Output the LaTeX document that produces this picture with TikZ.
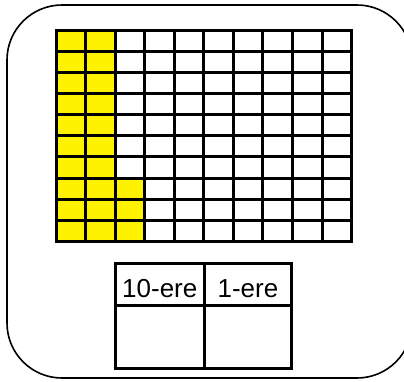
\documentclass[tikz,border=0pt]{standalone}
\usepackage{fontspec}
\setmainfont{Liberation Sans}
\begin{document}
\begin{tikzpicture}[x=1pt,y=-1pt,
  gridline/.style={line width=3pt, line cap=rect},
  yellowcell/.style={fill=yellow, draw=none},
  frameline/.style={line width=1.6pt, rounded corners=55pt},
  headtext/.style={anchor=base, inner sep=0pt, font=\fontsize{26}{30}\selectfont}]
\useasboundingbox (0,0) rectangle (404,381);
% outer frame
\draw[frameline] (7,5) rectangle (412,378);
% grid geometry
\def\gx{56}\def\gy{30}\def\cw{29.57}\def\ch{21.15}
% yellow cells
\foreach \c in {0,1}{
  \foreach \r in {0,...,9}{
    \fill[yellowcell] ({\gx+\c*\cw},{\gy+\r*\ch}) rectangle ({\gx+(\c+1)*\cw},{\gy+(\r+1)*\ch});
  }
}
\foreach \r in {7,8,9}{
  \fill[yellowcell] ({\gx+2*\cw},{\gy+\r*\ch}) rectangle ({\gx+3*\cw},{\gy+(\r+1)*\ch});
}
% grid lines
\foreach \i in {0,...,10}{
  \draw[gridline] ({\gx+\i*\cw},\gy) -- ({\gx+\i*\cw},{\gy+10*\ch});
  \draw[gridline] (\gx,{\gy+\i*\ch}) -- ({\gx+10*\cw},{\gy+\i*\ch});
}
% place value table
\coordinate (tl) at (115.7,263.5);
\coordinate (tr) at (291.7,263.5);
\coordinate (bl) at (115.7,368.3);
\coordinate (br) at (291.7,368.3);
\coordinate (ml) at (115.7,305);
\coordinate (mr) at (291.7,305);
\coordinate (mt) at (204,263.5);
\coordinate (mb) at (204,368.3);
\draw[gridline] (tl) rectangle (br);
\draw[gridline] (ml) -- (mr);
\draw[gridline] (mt) -- (mb);
\node[headtext] (tens) at (159.8,297) {10-ere};
\node[headtext] (ones) at (247.9,297) {1-ere};
\end{tikzpicture}
\end{document}
